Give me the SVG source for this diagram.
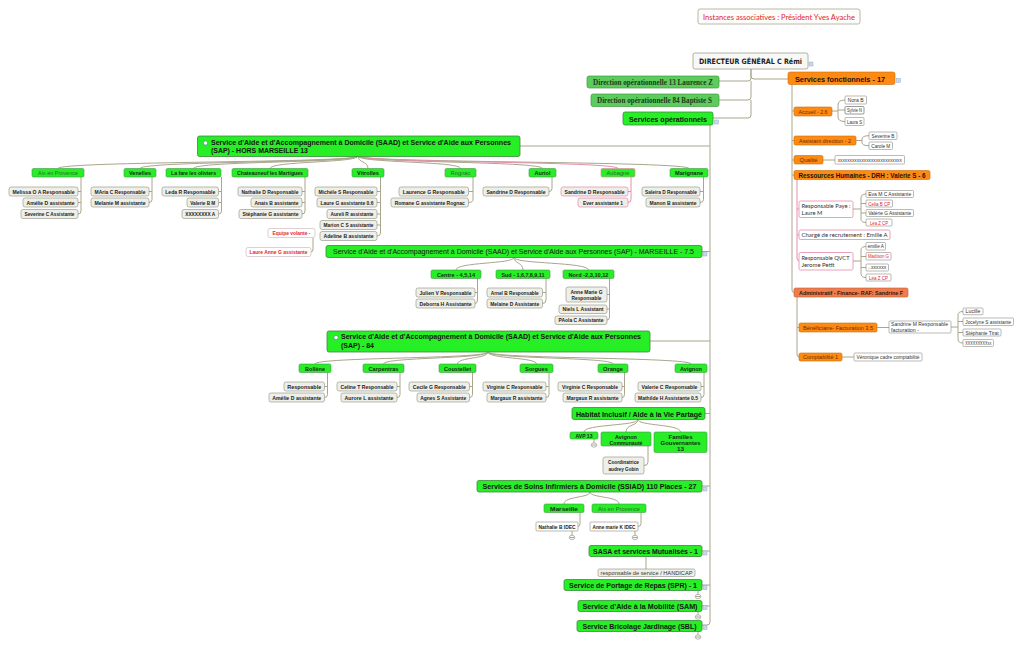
<svg xmlns="http://www.w3.org/2000/svg" width="1024" height="648" viewBox="0 0 1024 648">
<style>
text{font-family:"Liberation Sans",Arial,sans-serif;fill:#151515}
.ln{fill:none;stroke:#a9a68c;stroke-width:1}
.lp{fill:none;stroke:#e290ac;stroke-width:1}
.gb{fill:#26ef26;stroke:#3a8a3a;stroke-width:.8}
.gh{fill:#26ef26;stroke:#4c964c;stroke-width:.6}
.dg{fill:#5ccd5c;stroke:#449944;stroke-width:.7}
.cb{fill:#eeefe9;stroke:#8d8d7c;stroke-width:.6}
.wb{fill:#fff;stroke:#8c8c84;stroke-width:.6}
.pk{fill:#fff;stroke:#e48aaa;stroke-width:.8}
.pc{fill:#eeefe9;stroke:#e48aaa;stroke-width:.7}
.ob{fill:#ff8a12;stroke:#c8700e;stroke-width:.6}
.sq{fill:#c6d7ee;stroke:#98aecb;stroke-width:.5}
.cc{fill:#fff;stroke:#8a8a80;stroke-width:.6}
.m{text-anchor:middle}
.b8{font-size:8px;font-weight:bold}
.b7{font-size:7.4px;font-weight:bold}
.s{font-size:5.4px;font-weight:bold;fill:#222}
.h{font-size:5.4px;font-weight:bold;fill:#1a2a1a}
.hl{font-size:5.4px;fill:#2f6a2f}
.n{font-size:5px;fill:#333}
.c{font-family:Lato,"Open Sans",sans-serif;font-size:6.4px;fill:#333}
.ot{font-size:5.6px;fill:#6a2e00}
.r{fill:#e4262a}
.dt{font-family:"DejaVu Sans",sans-serif;font-size:7.4px;font-weight:bold;fill:#222}
.sf{font-family:"Liberation Serif",serif;font-size:7.6px;font-weight:bold;fill:#1e3a1e}
</style>
<rect width="1024" height="648" fill="#fff"/>

<g id="connectors">
<path class="ln" d="M751 69V76Q751 79 754 79H788"/>
<path class="ln" d="M751 69V78Q751 81 748 81H719"/>
<path class="ln" d="M751 81V97Q751 100 748 100H719"/>
<path class="ln" d="M751 100V115Q751 118 748 118H713"/>
<path class="ln" d="M710 125V622Q710 625 707 625H702M710 146H520M710 251.5H702M710 341H650M710 413.5H705M710 486H702M710 551H702M710 585H702M710 606H702"/>
<path class="ln" d="M358 156C358 163 58 161 58 168.5M358 156C358 163 140 161 140 168.5M358 156C358 163 193.5 161 193.5 168.5M358 156C358 163 270 161 270 168.5M358 156C358 163 368 161 368 168.5M358 156C358 163 460.5 161 460.5 168.5M358 156C358 163 542.5 161 542.5 168.5M358 156C358 163 689 161 689 168.5"/>
<path class="lp" d="M358 156C358 163 618 161 618 168.5"/>
<path class="ln" d="M81 177V211Q81 214 78 214M81 191.5H78M81 202.5H78M152 177V199.5Q152 202.5 149 202.5M152 191.5H149M221.5 177V211Q221.5 214 218.5 214M221.5 191.5H218.5M221.5 202.5H218.5M305 177V211Q305 214 302 214M305 191.5H302M305 202.5H302M380.5 177V233Q380.5 236 377 236M380.5 191.5H377M380.5 202.5H377M380.5 214H377M380.5 225H377M473 177V199.5Q473 202.5 468.5 202.5M473 191.5H468.5M552 177V188.5Q552 191.5 549 191.5M703.5 177V199.5Q703.5 202.5 700 202.5M703.5 191.5H700M313 237.5V249Q313 252 311 252"/>
<path class="lp" d="M631 177V199.5Q631 202.5 628 202.5M631 191.5H628"/>
<path class="ln" d="M514 257.5C514 264 456 262 456 270M514 257.5C514 264 523 262 523 270M514 257.5C514 264 588.5 262 588.5 270M477.5 278.5V300Q477.5 303.5 475 303.5M477.5 292.5H475M546 278.5V300Q546 303.5 542.5 303.5M546 292.5H542.5M609.5 278.5V317Q609.5 320 607 320M609.5 294.5H607M609.5 309H607"/>
<path class="ln" d="M488 352C488 359 315 357 315 364M488 352C488 359 383.5 357 383.5 364M488 352C488 359 457.5 357 457.5 364M488 352C488 359 536.5 357 536.5 364M488 352C488 359 613 357 613 364M488 352C488 359 691 357 691 364M327.5 372.5V394.5Q327.5 397.5 324.5 397.5M327.5 386.5H324.5M400 372.5V394.5Q400 397.5 397 397.5M400 386.5H397M472.5 372.5V394.5Q472.5 397.5 469.5 397.5M472.5 386.5H469.5M549 372.5V394.5Q549 397.5 546 397.5M549 386.5H546M624.5 372.5V394.5Q624.5 397.5 622 397.5M624.5 386.5H622M704 372.5V394.5Q704 397.5 701 397.5M704 386.5H701"/>
<path class="ln" d="M638 419.5C638 426 584 424 584 432M638 419.5C638 426 626 424 626 432M638 419.5C638 426 680.5 424 680.5 432M648 446V462Q648 465.5 644 465.5M594 439V442.8"/>
<path class="ln" d="M590 492C590 498 564 496 564 504M590 492C590 498 619 496 619 504M580 512.5V523.5Q580 526.5 578 526.5M641 512.5V523.5Q641 526.5 638 526.5M572 531V535.3M635 531V535.3M646 556.5V569M698 590.5V594.3M698 611.5V614.8M698 631.5V634.8"/>
<path class="ln" d="M792 84V290Q792 292.5 794 292.5M792 111H794M792 140.5H794M792 160H794M792 175H794M832 111H838M845 100Q838 100 838 105V117Q838 121.5 845 121.5M838 110H845M856 140.5H862M869 135.7Q862 135.7 862 139V142.5Q862 145.7 869 145.7M823 160H835M853 209H861M866 194Q861 194 861 198V219Q861 222.5 866 222.5M861 203.5H866M861 213H866M853 261H861M866 246.5Q861 246.5 861 250V273.5Q861 277.5 866 277.5M861 256.5H866M861 267.5H866M797 297V354Q797 357 799 357M797 327.5H799M877 327.5H889M951 327H958M963 311.5Q958 311.5 958 315V339Q958 343 963 343M958 321.5H963M958 332.5H963M842 357H854"/>
<path class="lp" d="M797 179.5V258Q797 261 799 261M797 209H799M797 235H799"/>
<g id="collapse">
<ellipse class="cc" cx="594" cy="445" rx="2.8" ry="2.2"/><path class="ln" d="M591.6 445H596.4"/>
<ellipse class="cc" cx="572" cy="537.5" rx="2.8" ry="2.2"/><path class="ln" d="M569.6 537.5H574.4"/>
<ellipse class="cc" cx="635" cy="537.5" rx="2.8" ry="2.2"/><path class="ln" d="M632.6 537.5H637.4"/>
<ellipse class="cc" cx="698" cy="596.5" rx="2.8" ry="2.2"/><path class="ln" d="M695.6 596.5H700.4"/>
<ellipse class="cc" cx="698" cy="617" rx="2.8" ry="2.2"/><path class="ln" d="M695.6 617H700.4"/>
<ellipse class="cc" cx="698" cy="637" rx="2.8" ry="2.2"/><path class="ln" d="M695.6 637H700.4"/>
</g>
<g id="markers">
<rect class="sq" x="809" y="62" width="4" height="4"/>
<rect class="sq" x="896.5" y="78.5" width="4" height="4"/>
<rect class="sq" x="714.5" y="120" width="4" height="4"/>
<rect class="sq" x="703" y="252" width="4" height="4"/>
<rect class="sq" x="703" y="487" width="4" height="4"/>
<rect class="sq" x="703" y="551" width="4" height="4"/>
<rect class="sq" x="703" y="585.5" width="4" height="4"/>
<rect class="sq" x="703" y="605.5" width="4" height="4"/>
<rect class="sq" x="703" y="625.5" width="4" height="4"/>
</g>
</g>

<g id="n-instances"><rect x="698" y="9" width="162" height="15" rx="2" fill="#fcfcfa" stroke="#a8a890" stroke-width=".8"/><text x="779" y="19.5" class="m r" style="font-family:Lato,'Open Sans',sans-serif;font-size:7.6px" textLength="152" lengthAdjust="spacingAndGlyphs">Instances associatives : Président Yves Ayache</text></g>
<g id="n-dg"><rect x="693" y="53" width="115" height="16" rx="2" fill="#f8f8f6" stroke="#a0a090" stroke-width=".8"/><text x="750.5" y="64" class="m dt" textLength="103" lengthAdjust="spacingAndGlyphs">DIRECTEUR GÉNÉRAL  C Rémi</text></g>
<g id="n-dir13"><rect class="dg" x="587" y="76" width="132" height="12" rx="2"/><text x="653" y="85" class="m sf" textLength="120" lengthAdjust="spacingAndGlyphs">Direction opérationnelle 13 Laurence Z</text></g>
<g id="n-dir84"><rect class="dg" x="591" y="94" width="128" height="12.5" rx="2"/><text x="654.5" y="103" class="m sf" textLength="115" lengthAdjust="spacingAndGlyphs">Direction opérationnelle 84 Baptiste S</text></g>
<g id="n-servop"><rect class="gb" x="623" y="112" width="90" height="13" rx="2"/><text x="668" y="121.5" class="m b8" textLength="78" lengthAdjust="spacingAndGlyphs">Services opérationnels</text></g>
<g id="n-servfonc"><rect class="ob" x="788" y="72" width="107" height="12.5" rx="2"/><text x="840" y="81.5" class="m b8" textLength="90" lengthAdjust="spacingAndGlyphs">Services fonctionnels - 17</text></g>

<g id="n-saad13"><rect class="gb" x="197.5" y="136" width="322.5" height="20.5" rx="2"/><circle cx="205.5" cy="143" r="2.1" fill="#fff" stroke="#5a7ab0" stroke-width=".6"/><text x="211" y="145" class="b7" textLength="300" lengthAdjust="spacingAndGlyphs">Service d'Aide et d'Accompagnement à Domicile (SAAD) et Service d'Aide aux Personnes</text><text x="211" y="152.8" class="b7" textLength="97" lengthAdjust="spacingAndGlyphs">(SAP) - HORS MARSEILLE 13</text></g>

<g id="n-aix"><rect class="gh" x="32" y="168.5" width="52" height="8.5" rx="1.5"/><text x="58" y="175" class="m hl" textLength="40" lengthAdjust="spacingAndGlyphs">Aix en Provence</text></g>
<g id="n-melissa"><rect class="cb" x="9" y="187" width="69" height="9" rx="2"/><text x="43.5" y="193.5" class="m s" textLength="62" lengthAdjust="spacingAndGlyphs">Melissa O A Responsable</text></g>
<g id="n-amelie1"><rect class="cb" x="23" y="198" width="55" height="9" rx="2"/><text x="50.5" y="204.5" class="m s" textLength="48" lengthAdjust="spacingAndGlyphs">Amélie D assistante</text></g>
<g id="n-severine"><rect class="cb" x="21" y="209.5" width="57" height="9" rx="2"/><text x="49.5" y="216" class="m s" textLength="50" lengthAdjust="spacingAndGlyphs">Severine C Assistante</text></g>

<g id="n-venelles"><rect class="gh" x="124" y="168.5" width="32" height="8.5" rx="1.5"/><text x="140" y="175" class="m h" textLength="22" lengthAdjust="spacingAndGlyphs">Venelles</text></g>
<g id="n-maria"><rect class="cb" x="91" y="187" width="58" height="9" rx="2"/><text x="120" y="193.5" class="m s" textLength="51" lengthAdjust="spacingAndGlyphs">MAria C Responsable</text></g>
<g id="n-melanie"><rect class="cb" x="91" y="198" width="58" height="9" rx="2"/><text x="120" y="204.5" class="m s" textLength="51" lengthAdjust="spacingAndGlyphs">Melanie M  assistante</text></g>

<g id="n-lafare"><rect class="gh" x="166" y="168.5" width="55" height="8.5" rx="1.5"/><text x="193.5" y="175" class="m h" textLength="45" lengthAdjust="spacingAndGlyphs">La fare les oliviers</text></g>
<g id="n-leda"><rect class="cb" x="162" y="187" width="56.5" height="9" rx="2"/><text x="190.25" y="193.5" class="m s" textLength="50" lengthAdjust="spacingAndGlyphs">Leda R Responsable</text></g>
<g id="n-valeriebm"><rect class="cb" x="187" y="198" width="31.5" height="9" rx="2"/><text x="202.75" y="204.5" class="m s" textLength="25" lengthAdjust="spacingAndGlyphs">Valerie B M</text></g>
<g id="n-xxxa"><rect class="cb" x="182" y="209.5" width="36.5" height="9" rx="2"/><text x="200.25" y="216" class="m s" textLength="30" lengthAdjust="spacingAndGlyphs">XXXXXXXX A</text></g>

<g id="n-chateauneuf"><rect class="gh" x="232" y="168.5" width="76" height="8.5" rx="1.5"/><text x="270" y="175" class="m h" textLength="66" lengthAdjust="spacingAndGlyphs">Chateauneuf les Martigues</text></g>
<g id="n-nathalied"><rect class="cb" x="238" y="187" width="64" height="9" rx="2"/><text x="270" y="193.5" class="m s" textLength="57" lengthAdjust="spacingAndGlyphs">Nathalie D Responsable</text></g>
<g id="n-anais"><rect class="cb" x="251" y="198" width="51" height="9" rx="2"/><text x="276.5" y="204.5" class="m s" textLength="44" lengthAdjust="spacingAndGlyphs">Anais B assistante</text></g>
<g id="n-stephanie"><rect class="cb" x="239" y="209.5" width="63" height="9" rx="2"/><text x="270.5" y="216" class="m s" textLength="56" lengthAdjust="spacingAndGlyphs">Stéphanie G assistante</text></g>

<g id="n-vitrolles"><rect class="gh" x="352" y="168.5" width="32" height="8.5" rx="1.5"/><text x="368" y="175" class="m h" textLength="22" lengthAdjust="spacingAndGlyphs">Vitrolles</text></g>
<g id="n-michele"><rect class="cb" x="315" y="187" width="62" height="9" rx="2"/><text x="346" y="193.5" class="m s" textLength="55" lengthAdjust="spacingAndGlyphs">Michèle S Responsable</text></g>
<g id="n-laureg"><rect class="cb" x="317" y="198" width="60" height="9" rx="2"/><text x="347" y="204.5" class="m s" textLength="53" lengthAdjust="spacingAndGlyphs">Laure G assistante 0.6</text></g>
<g id="n-aureli"><rect class="cb" x="327" y="209.5" width="50" height="9" rx="2"/><text x="352" y="216" class="m s" textLength="43" lengthAdjust="spacingAndGlyphs">Aureli R assistante</text></g>
<g id="n-marion"><rect class="cb" x="320" y="220.5" width="57" height="9" rx="2"/><text x="348.5" y="227" class="m s" textLength="50" lengthAdjust="spacingAndGlyphs">Marion C S assistante</text></g>
<g id="n-adeline"><rect class="cb" x="320" y="231.5" width="57" height="9" rx="2"/><text x="348.5" y="238" class="m s" textLength="50" lengthAdjust="spacingAndGlyphs">Adeline B assistante</text></g>

<g id="n-rognac"><rect class="gh" x="445" y="168.5" width="31" height="8.5" rx="1.5"/><text x="460.5" y="175" class="m hl" textLength="20" lengthAdjust="spacingAndGlyphs">Rognac</text></g>
<g id="n-laurence"><rect class="cb" x="399" y="187" width="69.5" height="9" rx="2"/><text x="433.75" y="193.5" class="m s" textLength="62" lengthAdjust="spacingAndGlyphs">Laurence G  Responsable</text></g>
<g id="n-romane"><rect class="cb" x="391" y="198" width="77.5" height="9" rx="2"/><text x="429.75" y="204.5" class="m s" textLength="70" lengthAdjust="spacingAndGlyphs">Romane G assistante  Rognac</text></g>

<g id="n-auriol"><rect class="gh" x="529" y="168.5" width="27" height="8.5" rx="1.5"/><text x="542.5" y="175" class="m h" textLength="16" lengthAdjust="spacingAndGlyphs">Auriol</text></g>
<g id="n-sandrined1"><rect class="cb" x="483" y="187" width="66" height="9" rx="2"/><text x="516" y="193.5" class="m s" textLength="59" lengthAdjust="spacingAndGlyphs">Sandrine D Responsable</text></g>

<g id="n-aubagne"><rect x="601" y="168.5" width="34" height="8.5" rx="1.5" fill="#26ef26" stroke="#e48aaa" stroke-width=".7"/><text x="618" y="175" class="m hl" textLength="23" lengthAdjust="spacingAndGlyphs">Aubagne</text></g>
<g id="n-sandrined2"><rect class="pc" x="561" y="187" width="67" height="9" rx="2"/><text x="594.5" y="193.5" class="m s" textLength="60" lengthAdjust="spacingAndGlyphs">Sandrine D Responsable</text></g>
<g id="n-ever"><rect class="pc" x="578" y="198" width="50" height="9" rx="2"/><text x="603" y="204.5" class="m s" textLength="40" lengthAdjust="spacingAndGlyphs">Ever  assistante 1</text></g>

<g id="n-marignane"><rect class="gh" x="670" y="168.5" width="38" height="8.5" rx="1.5"/><text x="689" y="175" class="m h" textLength="28" lengthAdjust="spacingAndGlyphs">Marignane</text></g>
<g id="n-saleira"><rect class="cb" x="642" y="187" width="58" height="9" rx="2"/><text x="671" y="193.5" class="m s" textLength="52" lengthAdjust="spacingAndGlyphs">Saleira D Responsable</text></g>
<g id="n-manon"><rect class="cb" x="646" y="198" width="54" height="9" rx="2"/><text x="673" y="204.5" class="m s" textLength="47" lengthAdjust="spacingAndGlyphs">Manon B assistante</text></g>

<g id="n-equipe"><rect x="268" y="228.5" width="47" height="9" rx="2" fill="#fff" stroke="#c8b0b0" stroke-width=".6"/><text x="291.5" y="235" class="m s r" textLength="38" lengthAdjust="spacingAndGlyphs">Equipe volante -</text></g>
<g id="n-laureanne"><rect x="246" y="247.5" width="65" height="9" rx="2" fill="#fff" stroke="#c8b0b0" stroke-width=".6"/><text x="278.5" y="254" class="m s r" textLength="58" lengthAdjust="spacingAndGlyphs">Laure Anne G assistante</text></g>

<g id="n-saadmrs"><rect class="gb" x="326" y="245.5" width="376" height="12" rx="2"/><text x="333" y="254.3" style="font-size:8px" textLength="361" lengthAdjust="spacingAndGlyphs">Service d'Aide et d'Accompagnement à Domicile (SAAD) et Service d'Aide aux Personnes (SAP) - MARSEILLE - 7.5</text></g>
<g id="n-centre"><rect class="gh" x="431" y="270" width="50" height="8.5" rx="1.5"/><text x="456" y="276.5" class="m h" textLength="38" lengthAdjust="spacingAndGlyphs">Centre  - 4,5,14</text></g>
<g id="n-sud"><rect class="gh" x="496" y="270" width="54" height="8.5" rx="1.5"/><text x="523" y="276.5" class="m h" textLength="43" lengthAdjust="spacingAndGlyphs">Sud - 1,6,7,8,9,11</text></g>
<g id="n-nord"><rect class="gh" x="563" y="270" width="51" height="8.5" rx="1.5"/><text x="588.5" y="276.5" class="m h" textLength="40" lengthAdjust="spacingAndGlyphs">Nord -2,3,10,12</text></g>
<g id="n-julien"><rect class="cb" x="416" y="288" width="59" height="9" rx="2"/><text x="445.5" y="294.5" class="m s" textLength="52" lengthAdjust="spacingAndGlyphs">Julien V Responsable</text></g>
<g id="n-deborra"><rect class="cb" x="416" y="299" width="59" height="9" rx="2"/><text x="445.5" y="305.5" class="m s" textLength="52" lengthAdjust="spacingAndGlyphs">Deborra H  Assistante</text></g>
<g id="n-arnel"><rect class="cb" x="487" y="288" width="55.5" height="9" rx="2"/><text x="514.75" y="294.5" class="m s" textLength="48" lengthAdjust="spacingAndGlyphs">Arnel B Responsable</text></g>
<g id="n-melaine"><rect class="cb" x="487" y="299" width="55.5" height="9" rx="2"/><text x="514.75" y="305.5" class="m s" textLength="49" lengthAdjust="spacingAndGlyphs">Melaine D Assistante</text></g>
<g id="n-annemarie"><rect class="cb" x="566" y="287" width="41" height="15" rx="2"/><text x="586.5" y="293.5" class="m s" textLength="32" lengthAdjust="spacingAndGlyphs">Anne Marie G</text><text x="586.5" y="299.7" class="m s" textLength="30" lengthAdjust="spacingAndGlyphs">Responsable</text></g>
<g id="n-niels"><rect class="cb" x="559" y="305" width="48" height="8.5" rx="2"/><text x="583" y="311.3" class="m s" textLength="41" lengthAdjust="spacingAndGlyphs">Niels L Assistant</text></g>
<g id="n-paola"><rect class="cb" x="555" y="316" width="52" height="8.5" rx="2"/><text x="581" y="322.3" class="m s" textLength="45" lengthAdjust="spacingAndGlyphs">PAola C Assistante</text></g>

<g id="n-saad84"><rect class="gb" x="327" y="331" width="323" height="21" rx="2"/><circle cx="336" cy="337.5" r="2.1" fill="#fff" stroke="#5a7ab0" stroke-width=".6"/><text x="341" y="339.3" class="b7" textLength="300" lengthAdjust="spacingAndGlyphs">Service d'Aide et d'Accompagnement à Domicile (SAAD) et Service d'Aide aux Personnes</text><text x="341" y="347.7" class="b7" textLength="33" lengthAdjust="spacingAndGlyphs">(SAP) - 84</text></g>
<g id="n-bollene"><rect class="gh" x="299" y="364" width="32" height="8.5" rx="1.5"/><text x="315" y="370.5" class="m h" textLength="20" lengthAdjust="spacingAndGlyphs">Bollène</text></g>
<g id="n-carpentras"><rect class="gh" x="363" y="364" width="41" height="8.5" rx="1.5"/><text x="383.5" y="370.5" class="m h" textLength="30" lengthAdjust="spacingAndGlyphs">Carpentras</text></g>
<g id="n-coustellet"><rect class="gh" x="439" y="364" width="37" height="8.5" rx="1.5"/><text x="457.5" y="370.5" class="m h" textLength="27" lengthAdjust="spacingAndGlyphs">Coustellet</text></g>
<g id="n-sorgues"><rect class="gh" x="520" y="364" width="33" height="8.5" rx="1.5"/><text x="536.5" y="370.5" class="m h" textLength="23" lengthAdjust="spacingAndGlyphs">Sorgues</text></g>
<g id="n-orange"><rect class="gh" x="598" y="364" width="30" height="8.5" rx="1.5"/><text x="613" y="370.5" class="m h" textLength="20" lengthAdjust="spacingAndGlyphs">Orange</text></g>
<g id="n-avignon"><rect class="gh" x="675" y="364" width="32" height="8.5" rx="1.5"/><text x="691" y="370.5" class="m h" textLength="22" lengthAdjust="spacingAndGlyphs">Avignon</text></g>
<g id="n-resp-bollene"><rect class="cb" x="284" y="382" width="40.5" height="9" rx="2"/><text x="304.25" y="388.5" class="m s" textLength="34" lengthAdjust="spacingAndGlyphs">Responsable</text></g>
<g id="n-amelie2"><rect class="cb" x="269" y="393" width="55.5" height="9" rx="2"/><text x="296.75" y="399.5" class="m s" textLength="49" lengthAdjust="spacingAndGlyphs">Amélie D assistante</text></g>
<g id="n-celine"><rect class="cb" x="337" y="382" width="60" height="9" rx="2"/><text x="367" y="388.5" class="m s" textLength="53" lengthAdjust="spacingAndGlyphs">Celine T Responsable</text></g>
<g id="n-aurore"><rect class="cb" x="341" y="393" width="56" height="9" rx="2"/><text x="369" y="399.5" class="m s" textLength="49" lengthAdjust="spacingAndGlyphs">Aurore L  assistante</text></g>
<g id="n-cecile"><rect class="cb" x="409" y="382" width="60.5" height="9" rx="2"/><text x="439.25" y="388.5" class="m s" textLength="53" lengthAdjust="spacingAndGlyphs">Cecile G Responsable</text></g>
<g id="n-agnes"><rect class="cb" x="417" y="393" width="52.5" height="9" rx="2"/><text x="443.25" y="399.5" class="m s" textLength="46" lengthAdjust="spacingAndGlyphs">Agnes S Assistante</text></g>
<g id="n-virginie1"><rect class="cb" x="483" y="382" width="63" height="9" rx="2"/><text x="514.5" y="388.5" class="m s" textLength="56" lengthAdjust="spacingAndGlyphs">Virginie C Responsable</text></g>
<g id="n-margaux1"><rect class="cb" x="487" y="393" width="59" height="9" rx="2"/><text x="516.5" y="399.5" class="m s" textLength="52" lengthAdjust="spacingAndGlyphs">Margaux R assistante</text></g>
<g id="n-virginie2"><rect class="cb" x="558" y="382" width="64" height="9" rx="2"/><text x="590" y="388.5" class="m s" textLength="56" lengthAdjust="spacingAndGlyphs">Virginie C Responsable</text></g>
<g id="n-margaux2"><rect class="cb" x="563" y="393" width="59" height="9" rx="2"/><text x="592.5" y="399.5" class="m s" textLength="52" lengthAdjust="spacingAndGlyphs">Margaux R assistante</text></g>
<g id="n-valeriec"><rect class="cb" x="638" y="382" width="63" height="9" rx="2"/><text x="669.5" y="388.5" class="m s" textLength="56" lengthAdjust="spacingAndGlyphs">Valerie C  Responsable</text></g>
<g id="n-mathilde"><rect class="cb" x="635" y="393" width="66" height="9" rx="2"/><text x="668" y="399.5" class="m s" textLength="60" lengthAdjust="spacingAndGlyphs">Mathilde H Assistante 0.5</text></g>

<g id="n-habitat"><rect class="gb" x="572" y="407.5" width="133" height="12" rx="2"/><text x="639" y="416.8" class="m b8" textLength="126" lengthAdjust="spacingAndGlyphs">Habitat Inclusif / Aide à la Vie Partagé</text></g>
<g id="n-avp13"><rect class="gh" x="570" y="432" width="28" height="7" rx="1.5"/><text x="584" y="437.8" class="m h" style="font-size:5px" textLength="17" lengthAdjust="spacingAndGlyphs">AVP 13</text></g>
<g id="n-avicom"><rect class="gh" x="601" y="432" width="50" height="14" rx="1.5"/><text x="626" y="438.5" class="m h" style="font-size:5.8px" textLength="22" lengthAdjust="spacingAndGlyphs">Avignon</text><text x="626" y="444.5" class="m h" style="font-size:5.8px" textLength="33" lengthAdjust="spacingAndGlyphs">Communauté</text></g>
<g id="n-familles"><rect class="gh" x="654" y="432" width="53" height="20.5" rx="1.5"/><text x="680.5" y="438.5" class="m h" style="font-size:5.8px" textLength="24" lengthAdjust="spacingAndGlyphs">Familles</text><text x="680.5" y="444.5" class="m h" style="font-size:5.8px" textLength="40" lengthAdjust="spacingAndGlyphs">Gouvernantes</text><text x="680.5" y="450.5" class="m h" style="font-size:5.8px" textLength="7" lengthAdjust="spacingAndGlyphs">13</text></g>
<g id="n-coord"><rect class="cb" x="603" y="457" width="41" height="17" rx="2"/><text x="623.5" y="464" class="m s" textLength="31" lengthAdjust="spacingAndGlyphs">Coordinatrice</text><text x="623.5" y="471" class="m s" textLength="30" lengthAdjust="spacingAndGlyphs">audrey Gobin</text></g>

<g id="n-ssiad"><rect class="gb" x="477" y="480.5" width="225" height="11.5" rx="2"/><text x="589.5" y="489.3" class="m b8" textLength="214" lengthAdjust="spacingAndGlyphs">Services  de Soins Infirmiers à Domicile (SSIAD) 110 Places - 27</text></g>
<g id="n-marseille"><rect class="gh" x="544" y="504" width="40" height="8.5" rx="1.5"/><text x="564" y="510.5" class="m h" textLength="28" lengthAdjust="spacingAndGlyphs">Marseille</text></g>
<g id="n-aix2"><rect class="gh" x="592" y="504" width="54" height="8.5" rx="1.5"/><text x="619" y="510.5" class="m hl" textLength="42" lengthAdjust="spacingAndGlyphs">Aix en Provence</text></g>
<g id="n-nathalieb"><rect class="wb" x="536" y="522" width="42" height="9" rx="1"/><text x="557" y="528.5" class="m s" textLength="37" lengthAdjust="spacingAndGlyphs">Nathalie B IDEC</text></g>
<g id="n-annemariek"><rect class="wb" x="590" y="522" width="48" height="9" rx="1"/><text x="614" y="528.5" class="m s" textLength="43" lengthAdjust="spacingAndGlyphs">Anne marie K IDEC</text></g>

<g id="n-sasa"><rect class="gb" x="589" y="545.5" width="113" height="11" rx="2"/><text x="645.5" y="554" class="m b8" textLength="105" lengthAdjust="spacingAndGlyphs">SASA et services Mutualisés - 1</text></g>
<g id="n-handicap"><rect class="cb" x="598" y="569" width="97" height="7.5" rx="1.5"/><text x="646.5" y="574.6" class="m n" textLength="92" lengthAdjust="spacingAndGlyphs">responsable de service / HANDICAP</text></g>
<g id="n-spr"><rect class="gb" x="564" y="579.5" width="138" height="11" rx="2"/><text x="633" y="588" class="m b8" textLength="128" lengthAdjust="spacingAndGlyphs">Service de Portage de Repas (SPR) - 1</text></g>
<g id="n-sam"><rect class="gb" x="578" y="600.5" width="124" height="11" rx="2"/><text x="640" y="609" class="m b8" textLength="115" lengthAdjust="spacingAndGlyphs">Service d'Aide à la Mobilité  (SAM)</text></g>
<g id="n-sbl"><rect class="gb" x="577" y="620.5" width="125" height="11" rx="2"/><text x="639.5" y="629" class="m b8" textLength="114" lengthAdjust="spacingAndGlyphs">Service Bricolage Jardinage (SBL)</text></g>

<g id="n-accueil"><rect class="ob" x="794" y="107" width="38" height="9" rx="1.5"/><text x="813" y="113.5" class="m ot" textLength="29" lengthAdjust="spacingAndGlyphs">Accueil - 2.6</text></g>
<g id="n-nora"><rect class="wb" x="845" y="96" width="21.5" height="8" rx="1"/><text x="855.75" y="102" class="m n" textLength="16" lengthAdjust="spacingAndGlyphs">Nora B</text></g>
<g id="n-sylvie"><rect class="wb" x="845" y="106.5" width="19" height="7.5" rx="1" style="stroke:#555"/><text x="854.5" y="112.2" class="m n" textLength="15" lengthAdjust="spacingAndGlyphs">Sylvie N</text></g>
<g id="n-laura"><rect class="wb" x="845" y="117.5" width="19" height="8" rx="1"/><text x="854.5" y="123.5" class="m n" textLength="15" lengthAdjust="spacingAndGlyphs">Laura S</text></g>
<g id="n-assdir"><rect class="ob" x="794" y="136" width="62" height="9" rx="1.5"/><text x="825" y="142.7" class="m ot" textLength="52" lengthAdjust="spacingAndGlyphs">Assistant  direction - 2</text></g>
<g id="n-severineb"><rect class="wb" x="869" y="132" width="28" height="7.5" rx="1"/><text x="883" y="137.8" class="m n" textLength="23" lengthAdjust="spacingAndGlyphs">Severine B</text></g>
<g id="n-carole"><rect class="wb" x="869" y="142" width="23.5" height="7.5" rx="1"/><text x="880.75" y="147.8" class="m n" textLength="19" lengthAdjust="spacingAndGlyphs">Carole M</text></g>
<g id="n-qualite"><rect class="ob" x="794" y="155.5" width="29" height="8.5" rx="1.5"/><text x="808.5" y="162" class="m ot" textLength="18" lengthAdjust="spacingAndGlyphs">Qualité</text></g>
<g id="n-qxx"><rect class="wb" x="835" y="155.5" width="69.5" height="8.5" rx="1"/><text x="869.75" y="161.6" class="m n" textLength="64" lengthAdjust="spacingAndGlyphs">xxxxxxxxxxxxxxxxxxxxxxxxxxx</text></g>
<g id="n-rh"><rect class="ob" x="794" y="170.5" width="136" height="9" rx="1.5"/><text x="862" y="177.5" class="m" style="font-size:6.4px;font-weight:bold" textLength="127" lengthAdjust="spacingAndGlyphs">Ressources Humaines - DRH  : Valerie S -  6</text></g>
<g id="n-paye"><rect class="pk" x="799" y="201" width="54" height="16.5" rx="1.5"/><text x="801.5" y="207.8" class="c" textLength="49" lengthAdjust="spacingAndGlyphs">Responsable Paye :</text><text x="801.5" y="215.2" class="c" textLength="21" lengthAdjust="spacingAndGlyphs">Laure M</text></g>
<g id="n-eva"><rect class="wb" x="866" y="190.5" width="47.5" height="7" rx="1"/><text x="889.75" y="196" class="m n" textLength="43" lengthAdjust="spacingAndGlyphs">Eva M C Assistante</text></g>
<g id="n-celia"><rect class="wb" x="866" y="200" width="26.5" height="7" rx="1"/><text x="879.25" y="205.5" class="m n r" textLength="22" lengthAdjust="spacingAndGlyphs">Celia B CP</text></g>
<g id="n-valerieg"><rect class="wb" x="866" y="209.5" width="47.5" height="7" rx="1"/><text x="889.75" y="215" class="m n" textLength="43" lengthAdjust="spacingAndGlyphs">Valérie G Assistante</text></g>
<g id="n-lea1"><rect class="wb" x="866" y="219" width="26" height="7" rx="1"/><text x="879" y="224.5" class="m n r" textLength="18" lengthAdjust="spacingAndGlyphs">Léa Z  CP</text></g>
<g id="n-recrut"><rect class="pk" x="799" y="230" width="91" height="9.5" rx="1.5"/><text x="801.5" y="237.2" class="c" textLength="86" lengthAdjust="spacingAndGlyphs">Chargé de recrutement : Emilie A</text></g>
<g id="n-qvct"><rect class="pk" x="799" y="252.5" width="54" height="17.5" rx="1.5"/><text x="801.5" y="259.5" class="c" textLength="48" lengthAdjust="spacingAndGlyphs">Responsable QVCT</text><text x="801.5" y="267" class="c" textLength="33" lengthAdjust="spacingAndGlyphs">Jerome Petit</text></g>
<g id="n-emilie"><rect class="wb" x="866" y="242.5" width="19.5" height="7.5" rx="1"/><text x="875.75" y="248" class="m n" textLength="16" lengthAdjust="spacingAndGlyphs">emilie A</text></g>
<g id="n-madison"><rect class="wb" x="866" y="252.5" width="25" height="7.5" rx="1"/><text x="878.5" y="258.3" class="m n r" textLength="21" lengthAdjust="spacingAndGlyphs">Madison G</text></g>
<g id="n-xxq"><rect class="wb" x="866" y="264" width="22.5" height="7" rx="1"/><text x="877.25" y="269.3" class="m n" textLength="18" lengthAdjust="spacingAndGlyphs">..xxxxxx</text></g>
<g id="n-lea2"><rect class="wb" x="866" y="274" width="25" height="7" rx="1"/><text x="878.5" y="279.5" class="m n r" textLength="19" lengthAdjust="spacingAndGlyphs">Léa Z CP</text></g>
<g id="n-admin"><rect x="794" y="288" width="114" height="9" rx="1.5" fill="#f07c4c" stroke="#c0603a" stroke-width=".6"/><text x="851" y="295" class="m" style="font-size:6px;font-weight:bold;fill:#2a1a10" textLength="104" lengthAdjust="spacingAndGlyphs">Administratif  - Finance- RAF: Sandrine F</text></g>
<g id="n-benef"><rect class="ob" x="799" y="323" width="78" height="9" rx="1.5"/><text x="838" y="330" class="m ot" style="font-size:6px" textLength="70" lengthAdjust="spacingAndGlyphs">Bénéficiaire-  Facturation 3.5</text></g>
<g id="n-sandrinem"><rect class="wb" x="889" y="321" width="62" height="12" rx="1"/><text x="891" y="326.3" class="n" textLength="57" lengthAdjust="spacingAndGlyphs">Sandrine M Responsable</text><text x="891" y="331.8" class="n" textLength="28" lengthAdjust="spacingAndGlyphs">facturation -</text></g>
<g id="n-lucille"><rect class="wb" x="963" y="308" width="20" height="6.7" rx="1"/><text x="973" y="313.2" class="m n" textLength="15" lengthAdjust="spacingAndGlyphs">Lucille</text></g>
<g id="n-jocelyne"><rect class="wb" x="963" y="318" width="50.5" height="7.5" rx="1"/><text x="988.25" y="323.6" class="m n" textLength="46" lengthAdjust="spacingAndGlyphs">Jocelyne S assistante</text></g>
<g id="n-stephanie-t"><rect class="wb" x="963" y="329" width="38" height="7" rx="1"/><text x="982" y="334.5" class="m n" textLength="33" lengthAdjust="spacingAndGlyphs">Stéphanie Tirat</text></g>
<g id="n-xxb"><rect class="wb" x="963" y="339.5" width="30.5" height="7" rx="1"/><text x="978.25" y="345" class="m n" textLength="26" lengthAdjust="spacingAndGlyphs">XXXXXXXXXxx</text></g>
<g id="n-compta"><rect class="ob" x="799" y="353" width="43" height="8" rx="1.5"/><text x="820.5" y="359.3" class="m ot" textLength="35" lengthAdjust="spacingAndGlyphs">Comptabilité 1</text></g>
<g id="n-veronique"><rect class="wb" x="854" y="353" width="68" height="8" rx="1"/><text x="888" y="359.3" class="m n" textLength="63" lengthAdjust="spacingAndGlyphs">Véronique cadre comptabilité</text></g>
</svg>
